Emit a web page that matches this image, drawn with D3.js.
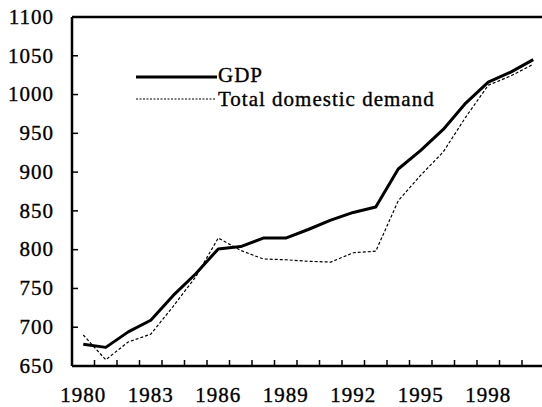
<!DOCTYPE html>
<html>
<head>
<meta charset="utf-8">
<script src="https://cdn.jsdelivr.net/npm/d3@7"></script>
<style>
  body { margin: 0; background: #fff; }
</style>
</head>
<body>
<svg id="chart"></svg>
<script>
// data
const years = d3.range(1980, 2001);
const gdp = [678, 674, 694, 709, 741, 769, 801, 804, 815, 815, 826, 838, 848, 855, 904, 928, 955, 989, 1016, 1029, 1045];
const demand = [690, 658, 681, 691, 727, 765, 815, 799, 788, 787, 785, 784, 796, 798, 863, 896, 926, 971, 1012, 1024, 1039];
const yTicks = [650, 700, 750, 800, 850, 900, 950, 1000, 1050, 1100];
const xLabels = [1980, 1983, 1986, 1989, 1992, 1995, 1998];

const font = '"Liberation Serif", "Times New Roman", serif';
const config = { width: 542, height: 407, margin: { top: 17, left: 72, bottom: 41 } };
const innerW = 472.5;
const innerH = config.height - config.margin.top - config.margin.bottom;

const svg = d3.select('#chart')
    .attr('width', config.width)
    .attr('height', config.height);

const chart = svg.append('g')
    .attr('transform', `translate(${config.margin.left},${config.margin.top})`);

const xScale = d3.scaleBand().domain(years).range([0, innerW]);
const xMid = d => xScale(d) + xScale.bandwidth() / 2;
const yScale = d3.scaleLinear().domain([650, 1100]).range([innerH, 0]);

// scanned look: slightly heavier glyphs
const styleText = sel => sel.attr('fill', '#000').attr('stroke', '#000').attr('stroke-width', 0.35)
    .style('letter-spacing', '1px');

// y axis, ticks pointing inward
const yAxis = d3.axisLeft(yScale).tickValues(yTicks).tickFormat(d3.format('d')).tickSize(0).tickPadding(18);
const yAxisG = chart.append('g').call(yAxis)
    .attr('font-family', font).attr('font-size', 21);
yAxisG.select('.domain').remove();
yAxisG.selectAll('text').attr('dy', '0.3em').call(styleText);
chart.selectAll('.ytick').data(yTicks).join('line')
    .attr('x1', 0).attr('x2', 6)
    .attr('y1', d => yScale(d)).attr('y2', d => yScale(d))
    .attr('stroke', '#000').attr('stroke-width', 1.5);

// x axis labels at category centres
const xAxis = d3.axisBottom(xScale).tickValues(xLabels).tickSize(0).tickPadding(21);
const xAxisG = chart.append('g').attr('transform', `translate(0,${innerH})`).call(xAxis)
    .attr('font-family', font).attr('font-size', 21);
xAxisG.select('.domain').remove();
xAxisG.selectAll('text').call(styleText);
// tick marks between categories, pointing up
chart.selectAll('.xtick').data(years.slice(1)).join('line')
    .attr('x1', d => xScale(d)).attr('x2', d => xScale(d))
    .attr('y1', innerH).attr('y2', innerH - 6)
    .attr('stroke', '#000').attr('stroke-width', 1.5);

// frame: left, bottom and top lines
chart.append('line').attr('x1', 0).attr('x2', 0).attr('y1', 0).attr('y2', innerH)
    .attr('stroke', '#000').attr('stroke-width', 2.5);
chart.append('line').attr('x1', 0).attr('x2', innerW).attr('y1', innerH).attr('y2', innerH)
    .attr('stroke', '#000').attr('stroke-width', 2.5);
chart.append('line').attr('x1', 0).attr('x2', innerW).attr('y1', 0).attr('y2', 0)
    .attr('stroke', '#000').attr('stroke-width', 2.5);

const line = d3.line().x((d, i) => xMid(years[i])).y(d => yScale(d));

chart.append('path').datum(demand)
    .attr('d', line).attr('fill', 'none')
    .attr('stroke', '#000').attr('stroke-width', 1.2)
    .attr('stroke-dasharray', '3,2');

chart.append('path').datum(gdp)
    .attr('d', line).attr('fill', 'none')
    .attr('stroke', '#000').attr('stroke-width', 3)
    .attr('stroke-linejoin', 'round');

// legend
const legend = svg.append('g')
    .attr('font-family', font).attr('font-size', 21);
legend.append('line').attr('x1', 136).attr('x2', 217).attr('y1', 77).attr('y2', 77)
    .attr('stroke', '#000').attr('stroke-width', 3);
legend.append('text').attr('x', 218).attr('y', 82).text('GDP').call(styleText);
legend.append('line').attr('x1', 136).attr('x2', 216).attr('y1', 99).attr('y2', 99)
    .attr('stroke', '#000').attr('stroke-width', 1).attr('stroke-dasharray', '2,1.5');
legend.append('text').attr('x', 218).attr('y', 106).text('Total domestic demand').call(styleText);
</script>
</body>
</html>
